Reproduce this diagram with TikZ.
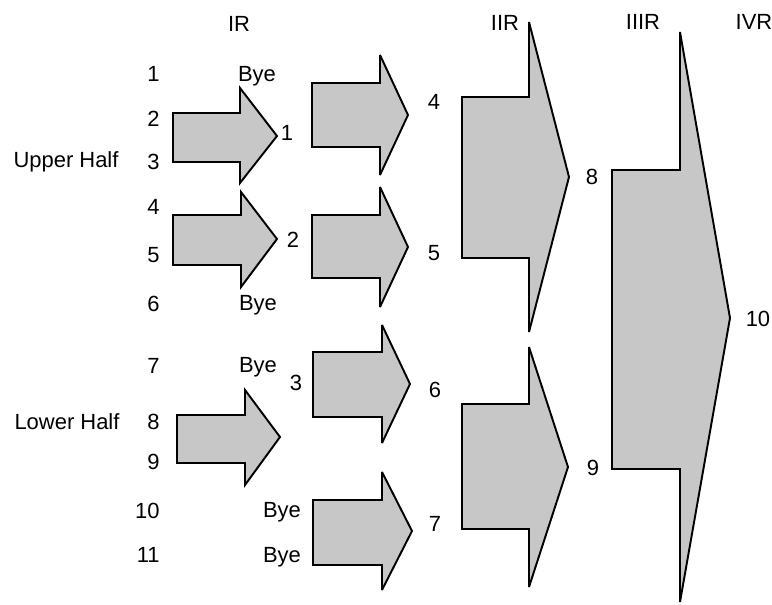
\documentclass[tikz,border=0pt]{standalone}
\usepackage{fontspec}
\setmainfont{Liberation Sans}
\usetikzlibrary{positioning}

% block arrow: left x, shaft top, shaft bottom, head x, head top, head bottom, tip x, tip y
\newcommand{\advarrow}[8]{%
  \draw[advance] (#1,#2) -- (#4,#2) -- (#4,#5) -- (#7,#8) -- (#4,#6) -- (#4,#3) -- (#1,#3) -- cycle;}

\begin{document}
\begin{tikzpicture}[
    x=0.02cm, y=-0.02cm,
    advance/.style={draw=black, line width=1.1pt, fill=black!22, line join=miter, miter limit=4},
    lbl/.style={inner sep=0pt, text depth=0pt, font=\fontsize{12.5}{15}\selectfont},
    entry/.style={lbl, anchor=east}
]
\useasboundingbox (0,0) rectangle (772,605);

% Round headings
\node[lbl] (hIR) at (239,24) {IR};
\node[lbl] (hIIR) at (505,23) {IIR};
\node[lbl] (hIIIR) at (643,22) {IIIR};
\node[lbl] (hIVR) at (754,22) {IVR};

% Halves
\node[lbl] (upper) at (66,160) {Upper Half};
\node[lbl] (lower) at (67,422) {Lower Half};

% Entrants
\node[entry] (e1) at (160,74) {1};
\node[entry] (e2) at (160,119) {2};
\node[entry] (e3) at (160,162) {3};
\node[entry] (e4) at (160,207) {4};
\node[entry] (e5) at (160,255) {5};
\node[entry] (e6) at (160,304) {6};
\node[entry] (e7) at (160,366) {7};
\node[entry] (e8) at (160,422) {8};
\node[entry] (e9) at (160,462) {9};
\node[entry] (e10) at (160,511) {10};
\node[entry] (e11) at (160,555) {11};

% Byes
\node[lbl] (bye1) at (257,74) {Bye};
\node[lbl] (bye6) at (258,303) {Bye};
\node[lbl] (bye7) at (258,365) {Bye};
\node[lbl] (bye10) at (282,510) {Bye};
\node[lbl] (bye11) at (282,555) {Bye};

% IR
\advarrow{173}{113}{162}{240}{88}{183}{277}{136}
\advarrow{173}{215}{265}{241}{192}{287}{277}{239}
\advarrow{177}{415}{463}{245}{390}{485}{280}{437}
\node[lbl] (w1) at (287,133) {1};
\node[lbl] (w2) at (293,240) {2};
\node[lbl] (w3) at (296,383) {3};

% IIR
\advarrow{312}{83}{147}{380}{55}{175}{408}{115}
\advarrow{312}{215}{278}{380}{187}{307}{408}{247}
\advarrow{313}{352}{417}{382}{325}{443}{410}{384}
\advarrow{313}{500}{565}{382}{472}{590}{412}{531}
\node[lbl] (w4) at (434,102) {4};
\node[lbl] (w5) at (434,253) {5};
\node[lbl] (w6) at (435,390) {6};
\node[lbl] (w7) at (435,524) {7};

% IIIR
\advarrow{462}{97}{258}{529}{22}{332}{569}{177}
\advarrow{462}{404}{529}{529}{347}{587}{568}{467}
\node[lbl] (w8) at (592,177) {8};
\node[lbl] (w9) at (593,468) {9};

% IVR
\advarrow{612}{170}{469}{680}{32}{602}{730}{318}
\node[lbl] (w10) at (758,319) {10};

\end{tikzpicture}
\end{document}
